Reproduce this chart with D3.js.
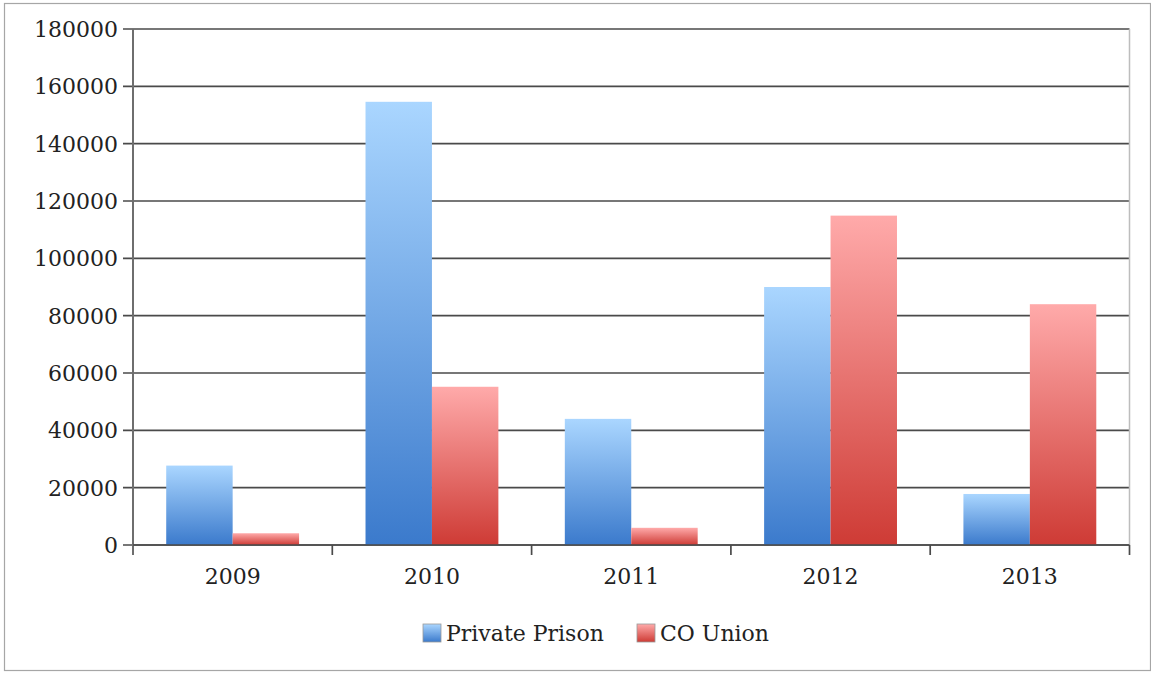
<!DOCTYPE html>
<html>
<head>
<meta charset="utf-8">
<script src="https://cdn.jsdelivr.net/npm/d3@7"></script>
<style>
  html, body { margin: 0; padding: 0; background: #fff; }
  svg { display: block; }
  text { font-family: "DejaVu Serif", "Liberation Serif", serif; fill: #222; }
</style>
</head>
<body>
<svg id="chart" width="1151" height="673"></svg>
<script>
// Annual contributions by source
const years = ["2009", "2010", "2011", "2012", "2013"];
const seriesNames = ["Private Prison", "CO Union"];
const privatePrison = [27700, 154600, 44000, 90000, 17800];
const coUnion = [4100, 55200, 6000, 114900, 84000];
const yTicks = [0, 20000, 40000, 60000, 80000, 100000, 120000, 140000, 160000, 180000];

const seriesValues = [privatePrison, coUnion];
const rows = years.map((y, i) => ({
  year: y,
  values: seriesNames.map((s, k) => ({ series: s, value: seriesValues[k][i] }))
}));

const svg = d3.select("#chart");
const plot = { left: 133, right: 1129.5, top: 29, bottom: 545 };

// gradients: light top to saturated bottom, one per series
const defs = svg.append("defs");
const gradStops = {
  "Private Prison": ["#aad6ff", "#3b7acc"],
  "CO Union": ["#ffaaaa", "#ce3b35"]
};
const gradId = d3.scaleOrdinal().domain(seriesNames).range(["gradBlue", "gradRed"]);
seriesNames.forEach(s => {
  const g = defs.append("linearGradient")
    .attr("id", gradId(s))
    .attr("x1", 0).attr("y1", 0).attr("x2", 0).attr("y2", 1);
  g.append("stop").attr("offset", "0%").attr("stop-color", gradStops[s][0]);
  g.append("stop").attr("offset", "100%").attr("stop-color", gradStops[s][1]);
});

// outer chart frame
svg.append("rect")
  .attr("x", 4.5).attr("y", 3.5)
  .attr("width", 1146).attr("height", 667)
  .attr("fill", "#fff")
  .attr("stroke", "#a6a6a6").attr("stroke-width", 1.2);

const x0 = d3.scaleBand().domain(years).range([plot.left, plot.right]).padding(0);
const x1 = d3.scaleBand().domain(seriesNames).range([0, x0.bandwidth()])
  .paddingInner(0).paddingOuter(0.5);
const y = d3.scaleLinear().domain([0, 180000]).range([plot.bottom, plot.top]);

// horizontal gridlines with tick stubs
svg.append("g")
  .selectAll("line")
  .data(yTicks)
  .join("line")
  .attr("x1", plot.left - 10).attr("x2", plot.right)
  .attr("y1", d => y(d)).attr("y2", d => y(d))
  .attr("stroke", "#4a4a4a").attr("stroke-width", 1.7);

// right plot edge
svg.append("line")
  .attr("x1", plot.right).attr("x2", plot.right)
  .attr("y1", plot.top).attr("y2", plot.bottom)
  .attr("stroke", "#bdbdbd").attr("stroke-width", 1.5);

// y axis labels
svg.append("g")
  .selectAll("text")
  .data(yTicks)
  .join("text")
  .attr("x", plot.left - 15)
  .attr("y", d => y(d))
  .attr("dy", "0.36em")
  .attr("text-anchor", "end")
  .attr("font-size", 22)
  .text(d => d3.format("d")(d));

// bars
const groups = svg.append("g")
  .selectAll("g")
  .data(rows)
  .join("g")
  .attr("transform", d => `translate(${x0(d.year)},0)`);

groups.selectAll("rect")
  .data(d => d.values)
  .join("rect")
  .attr("x", d => x1(d.series))
  .attr("width", x1.bandwidth())
  .attr("y", d => y(d.value))
  .attr("height", d => y(0) - y(d.value))
  .attr("fill", d => `url(#${gradId(d.series)})`);

// y axis line
svg.append("line")
  .attr("x1", plot.left).attr("x2", plot.left)
  .attr("y1", plot.top).attr("y2", plot.bottom + 10)
  .attr("stroke", "#6e6e6e").attr("stroke-width", 2);

// x axis baseline
svg.append("line")
  .attr("x1", plot.left).attr("x2", plot.right)
  .attr("y1", plot.bottom).attr("y2", plot.bottom)
  .attr("stroke", "#4a4a4a").attr("stroke-width", 1.7);

// category boundary ticks
const boundaries = years.map(d => x0(d) + x0.bandwidth());
svg.append("g")
  .selectAll("line")
  .data(boundaries)
  .join("line")
  .attr("x1", d => d).attr("x2", d => d)
  .attr("y1", plot.bottom).attr("y2", plot.bottom + 10)
  .attr("stroke", "#4a4a4a").attr("stroke-width", 1.7);

// category labels
svg.append("g")
  .selectAll("text")
  .data(years)
  .join("text")
  .attr("x", d => x0(d) + x0.bandwidth() / 2)
  .attr("y", 584)
  .attr("text-anchor", "middle")
  .attr("font-size", 22)
  .text(d => d);

// legend
const legendX = [423, 637];
const legend = svg.append("g")
  .selectAll("g")
  .data(seriesNames)
  .join("g")
  .attr("transform", (d, i) => `translate(${legendX[i]},624)`);
legend.append("rect")
  .attr("width", 18).attr("height", 18)
  .attr("fill", d => `url(#${gradId(d)})`)
  .attr("stroke", "#9a9a9a").attr("stroke-width", 0.8);
legend.append("text")
  .attr("x", 23).attr("y", 17)
  .attr("font-size", 22)
  .text(d => d);
</script>
</body>
</html>
